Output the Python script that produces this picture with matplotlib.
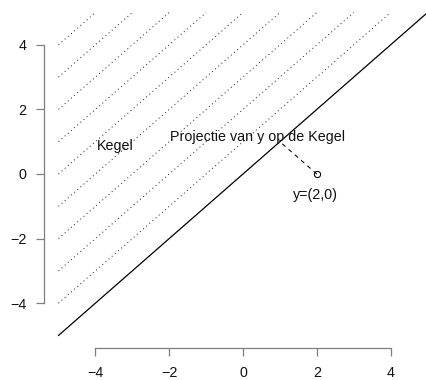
import matplotlib
matplotlib.use("Agg")
import matplotlib.pyplot as plt
import numpy as np

# --- data ---
cone_offsets = [1, 2, 3, 4, 5, 6, 7, 8, 9]   # dotted lines y = x + c
boundary_x = [-5, 5]                          # solid line y = x
point_y = (2, 0)
projection = (1, 1)
ticks = [-4, -2, 0, 2, 4]
labels = {"Kegel": (-3.45, 0.75),
          "Projectie van y op de Kegel": (0.38, 1.02),
          "y=(2,0)": (1.95, -0.77)}

plt.rcParams['font.family'] = ['Liberation Sans', 'DejaVu Sans']
fs = 10.3

fig = plt.figure(figsize=(4.27, 3.80), dpi=100)
ax = fig.add_axes([43.7/427, (380-348.4)/380, (442.3-43.7)/427, 348.8/380])
ax.set_xlim(-5.4, 5.4)
ax.set_ylim(-5.4, 5.4)

for c in cone_offsets:
    xs = np.array([-5, 5 - c])
    ax.plot(xs, xs + c, color='black', lw=0.75, linestyle=(0, (1, 3)), alpha=0.8)

bx = np.array(boundary_x)
ax.plot(bx, bx, color='black', lw=0.9)

ax.plot([point_y[0], projection[0]], [point_y[1], projection[1]],
        color='black', lw=0.75, linestyle=(0, (4, 4)))
ax.plot([point_y[0]], [point_y[1]], marker='o', ms=4.5, mfc='none',
        mec='black', mew=0.75, linestyle='none')

for txt, (x, y) in labels.items():
    ax.text(x, y, txt, ha='center', va='baseline', fontsize=fs, color='#111111')

for s in ['top', 'right']:
    ax.spines[s].set_visible(False)
for s in ['left', 'bottom']:
    ax.spines[s].set_bounds(-4, 4)
    ax.spines[s].set_color('#7f7f7f')
    ax.spines[s].set_linewidth(0.9)

ax.set_xticks(ticks)
ax.set_yticks(ticks)
ax.tick_params(direction='out', length=6.1, width=0.9, color='#7f7f7f',
               labelsize=fs, labelcolor='#111111')
ax.tick_params(axis='x', pad=6.6)
ax.tick_params(axis='y', pad=6.5)

fig.savefig("out.png", dpi=100)
